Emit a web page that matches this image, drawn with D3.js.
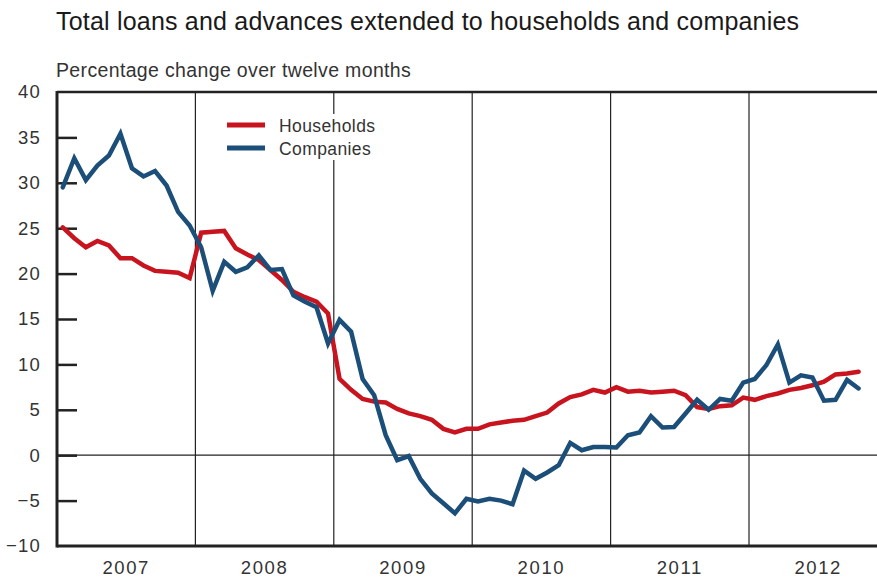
<!DOCTYPE html>
<html>
<head>
<meta charset="utf-8">
<script src="https://d3js.org/d3.v7.min.js"></script>
<style>
  body { margin: 0; background: #fff; }
  svg { display: block; font-family: "Liberation Sans", Arial, sans-serif; }
</style>
</head>
<body>
<script>
// years shown on the x axis
var years = ["2007", "2008", "2009", "2010", "2011", "2012"];

// monthly values, Jan 2007 - Oct 2012 (percentage change over twelve months)
var households = [
  25.1, 23.9, 22.9, 23.6, 23.1, 21.7, 21.7, 20.9, 20.3, 20.2, 20.1, 19.5,
  24.5, 24.6, 24.7, 22.8, 22.1, 21.5, 20.4, 19.3, 18.0, 17.4, 16.9, 15.6,
  8.4, 7.2, 6.2, 5.9, 5.8, 5.1, 4.6, 4.3, 3.9, 2.9, 2.5, 2.9,
  2.9, 3.4, 3.6, 3.8, 3.9, 4.3, 4.7, 5.7, 6.4, 6.7, 7.2, 6.9,
  7.5, 7.0, 7.1, 6.9, 7.0, 7.1, 6.6, 5.3, 5.1, 5.4, 5.5, 6.35,
  6.1, 6.5, 6.8, 7.2, 7.4, 7.7, 8.1, 8.9, 9.0, 9.2
];
var companies = [
  29.5, 32.7, 30.3, 31.9, 33.0, 35.4, 31.6, 30.7, 31.3, 29.7, 26.8, 25.3,
  22.9, 18.1, 21.3, 20.2, 20.7, 22.0, 20.4, 20.5, 17.6, 16.9, 16.3, 12.3,
  14.9, 13.6, 8.4, 6.6, 2.2, -0.55, -0.1, -2.6, -4.2, -5.3, -6.4, -4.8,
  -5.1, -4.8, -5.0, -5.4, -1.7, -2.6, -1.9, -1.1, 1.35, 0.55, 0.9, 0.9,
  0.85, 2.2, 2.5, 4.3, 3.05, 3.1, 4.6, 6.1, 5.0, 6.2, 6.0, 8.0,
  8.4, 9.9, 12.2, 8.0, 8.8, 8.55, 6.0, 6.1, 8.3, 7.35
];
var yTicks = [40, 35, 30, 25, 20, 15, 10, 5, 0, -5, -10];

var seriesNames = ["Households", "Companies"];
var seriesColors = ["#c8141e", "#1b4e79"];

// note: "top" is taken by window.top, so plot edges get their own names
var width = 877, height = 577;
var plotLeft = 57, plotTop = 92, plotBottom = 546;
var yearW = 138.4;

var svg = d3.select("body").append("svg")
  .attr("width", width)
  .attr("height", height);

// x in months since Jan 2007
var x = d3.scaleLinear()
  .domain([0, years.length * 12])
  .range([plotLeft, plotLeft + years.length * yearW]);

var y = d3.scaleLinear()
  .domain([-10, 40])
  .range([plotBottom, plotTop]);

// titles
svg.append("text")
  .attr("x", plotLeft - 1).attr("y", 30)
  .attr("font-size", 25)
  .attr("letter-spacing", 0.2)
  .attr("fill", "#1a1a1a")
  .text("Total loans and advances extended to households and companies");

svg.append("text")
  .attr("x", plotLeft - 1).attr("y", 77)
  .attr("font-size", 19.5)
  .attr("letter-spacing", 0.35)
  .attr("fill", "#333")
  .text("Percentage change over twelve months");

// year separators
svg.append("g")
  .selectAll("line")
  .data(d3.range(1, years.length))
  .join("line")
  .attr("x1", function(d) { return x(d * 12); })
  .attr("x2", function(d) { return x(d * 12); })
  .attr("y1", plotTop)
  .attr("y2", plotBottom)
  .attr("stroke", "#222")
  .attr("stroke-width", 1.2);

// zero line
svg.append("line")
  .attr("x1", plotLeft).attr("x2", width)
  .attr("y1", y(0)).attr("y2", y(0))
  .attr("stroke", "#222")
  .attr("stroke-width", 1.2);

// left axis with inner ticks
var yAxis = d3.axisLeft(y)
  .tickValues(yTicks)
  .tickSize(-20)
  .tickPadding(16)
  .tickFormat(d3.format("d"));

var gy = svg.append("g")
  .attr("transform", "translate(" + plotLeft + ",0)")
  .call(yAxis);
gy.select(".domain").remove();
gy.selectAll(".tick line")
  .attr("stroke", "#222")
  .attr("stroke-width", 2.5)
  .attr("display", function(d) { return (d === 40 || d === -10) ? "none" : null; });
gy.selectAll(".tick text")
  .attr("font-family", "Liberation Sans, Arial, sans-serif")
  .attr("font-size", 18.5)
  .attr("letter-spacing", 1.2)
  .attr("fill", "#333");

// frame: left, top, bottom
svg.append("line")
  .attr("x1", plotLeft).attr("x2", plotLeft)
  .attr("y1", plotTop - 1).attr("y2", plotBottom + 1.5)
  .attr("stroke", "#222").attr("stroke-width", 3);
svg.append("line")
  .attr("x1", plotLeft).attr("x2", width)
  .attr("y1", plotTop).attr("y2", plotTop)
  .attr("stroke", "#222").attr("stroke-width", 2.5);
svg.append("line")
  .attr("x1", plotLeft).attr("x2", width)
  .attr("y1", plotBottom).attr("y2", plotBottom)
  .attr("stroke", "#222").attr("stroke-width", 3);

// year labels
svg.append("g")
  .selectAll("text")
  .data(years)
  .join("text")
  .attr("x", function(d, i) { return x(i * 12 + 6); })
  .attr("y", 574)
  .attr("text-anchor", "middle")
  .attr("font-size", 18.5)
  .attr("letter-spacing", 1.6)
  .attr("fill", "#333")
  .text(function(d) { return d; });

// legend (white box covers the grid line behind it)
var legend = svg.append("g").attr("transform", "translate(222,114)");
legend.append("rect")
  .attr("width", 160).attr("height", 46)
  .attr("fill", "#fff");
[households, companies].forEach(function(s, i) {
  legend.append("line")
    .attr("x1", 5).attr("x2", 43)
    .attr("y1", 11 + i * 23).attr("y2", 11 + i * 23)
    .attr("stroke", seriesColors[i])
    .attr("stroke-width", 5);
  legend.append("text")
    .attr("x", 57).attr("y", 18 + i * 23)
    .attr("font-size", 17.5)
    .attr("letter-spacing", 0.4)
    .attr("fill", "#333")
    .text(seriesNames[i]);
});

// series lines
var line = d3.line()
  .x(function(d, i) { return x(i + 0.5); })
  .y(function(d) { return y(d); });

[households, companies].forEach(function(s, i) {
  svg.append("path")
    .datum(s)
    .attr("d", line)
    .attr("fill", "none")
    .attr("stroke", seriesColors[i])
    .attr("stroke-width", 4.5)
    .attr("stroke-linejoin", "miter")
    .attr("stroke-linecap", "round");
});
</script>
</body>
</html>
